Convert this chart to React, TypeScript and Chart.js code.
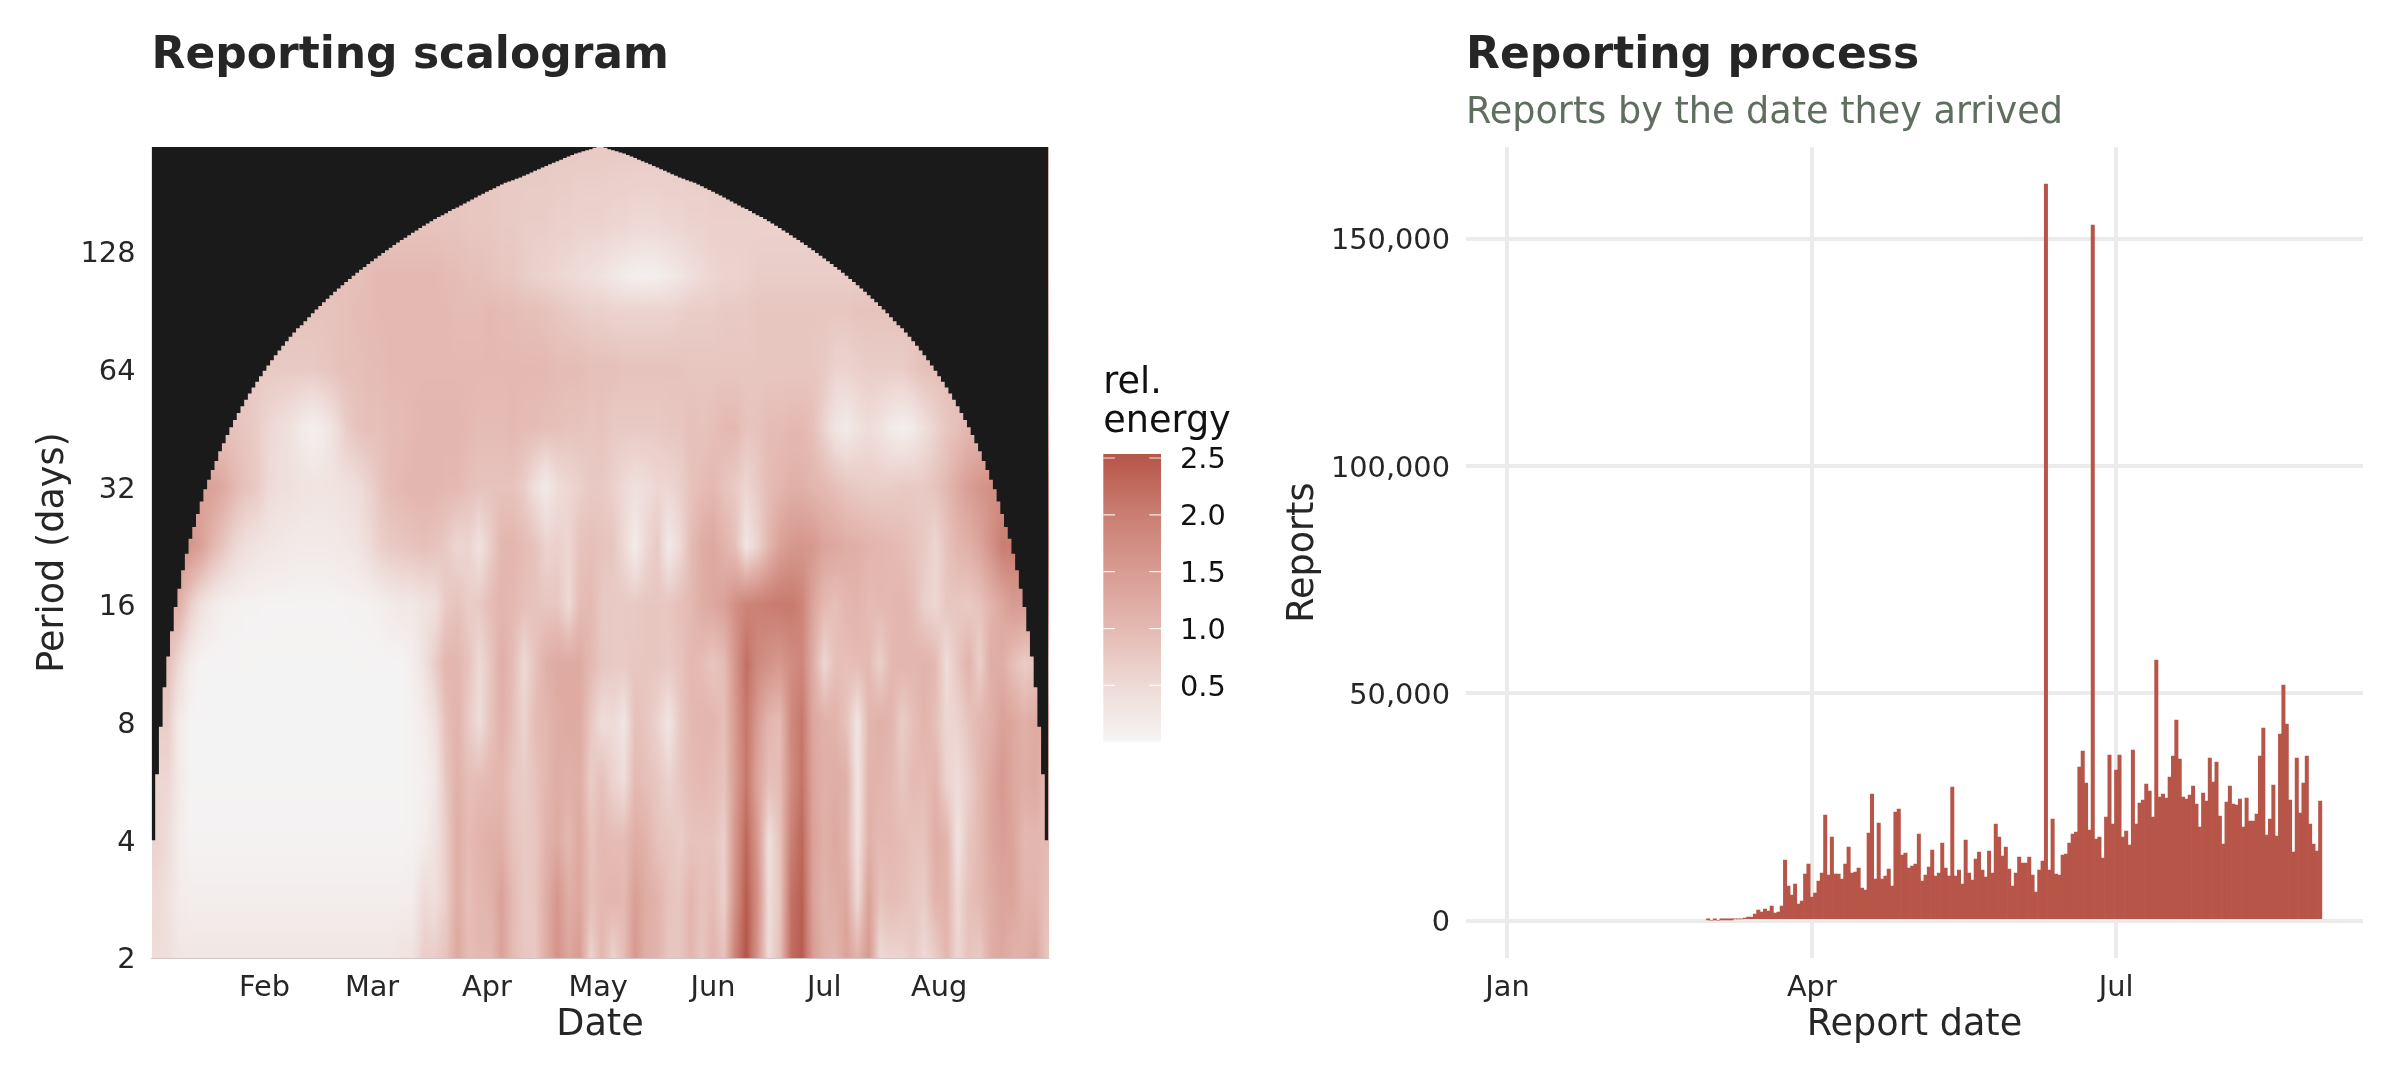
import { useEffect, useRef } from "react";
import { Chart, registerables } from "chart.js";

Chart.register(...registerables);

const FONT = "'DejaVu Sans'";
const TEXT = "#262626";
const BAR_RED = "#B75549";
const GRID = "#EBEBEB";

// Scalogram axes. x is days since Jan 1, y is the period in days.
const monthDays = [31, 60, 91, 121, 152, 182, 213];
const monthLabels = ["Feb", "Mar", "Apr", "May", "Jun", "Jul", "Aug"];
const periodTicks = [2, 4, 8, 16, 32, 64, 128];

// Rows of the energy table, every 3 days (day 2, 5, ... 242)
const heatPeriods = [2, 2.83, 4, 5.66, 8, 11.3, 16, 22.6, 32, 45.3, 64, 90.5, 111, 147, 239];

const energyP2 = [
  .45, .4, .28, .28, .28, .28, .28, .28, .28, .28,
  .28, .28, .28, .28, .28, .28, .28, .28, .28, .28,
  .28, .28, .35, .35, .7, .7, .85, 1.3, .95, 1.0,
  1.0, 1.4, .95, .8, .75, 1.2, 1.65, 1.3, 1.5, .6,
  1.05, .6, .95, 1.55, 1.15, 1.1, .8, .8, 1.05, .8,
  1.1, .85, 1.95, 2.55, 1.6, .45, .9, 2.2, 2.45, 1.5,
  1.15, 1.05, 1.4, 1.1, 1.55, .5, .6, .6, .75, .5,
  .7, 1.05, .55, .85, .75, 1.2, 1.3, 1.1, 1.15, 1.3, .8,
];
const energyP3 = [
  .5, .35, .18, .14, .14, .14, .14, .14, .14, .14,
  .14, .14, .14, .14, .14, .14, .14, .14, .14, .14,
  .14, .14, .14, .16, .5, .4, .7, 1.2, .9, 1.05,
  1.1, 1.4, 1.0, .75, .8, 1.2, 1.6, 1.2, 1.3, .9,
  1.0, 1.05, 1.0, 1.45, 1.2, 1.1, .85, .8, 1.05, .85,
  .95, .65, 1.7, 2.45, 1.7, .45, .8, 2.15, 2.4, 1.4,
  1.1, 1.2, 1.3, .5, 1.4, .85, .95, .9, .8, .7,
  1.1, 1.1, .5, .9, 1.0, 1.2, 1.35, 1.35, 1.1, 1.1, .9,
];
const energyP4 = [
  .6, .45, .15, .06, .06, .06, .06, .06, .06, .06,
  .06, .06, .06, .06, .06, .06, .06, .06, .06, .06,
  .06, .06, .06, .08, .15, .35, .7, 1.2, .95, 1.1,
  1.15, 1.15, .85, .75, .8, 1.1, 1.25, 1.0, 1.3, .85,
  1.0, .95, .95, 1.2, 1.1, .85, .8, .7, .85, .85,
  .85, .65, 1.6, 2.3, 1.55, .4, .85, 1.95, 2.3, 1.4,
  1.15, 1.3, 1.1, .35, 1.15, 1.0, 1.0, .95, .85, .85,
  1.2, 1.1, .35, .8, 1.0, 1.3, 1.45, 1.35, 1.0, 1.05, 1.0,
];
const energyP6 = [
  .55, .55, .2, .04, .04, .04, .04, .04, .04, .04,
  .04, .04, .04, .04, .04, .04, .04, .04, .04, .04,
  .04, .04, .04, .08, .1, .25, .8, 1.15, .9, .95,
  1.0, 1.05, .8, .7, .85, 1.05, 1.2, 1.15, 1.2, .7,
  .9, .6, .45, 1.0, .9, .8, .6, .8, .95, 1.0,
  .95, .85, 1.5, 2.1, 1.35, .9, .95, 1.75, 2.15, 1.35,
  1.15, 1.2, 1.15, .3, 1.1, 1.1, 1.0, .8, 1.0, .95,
  1.1, .6, .45, .7, 1.0, 1.3, 1.55, 1.3, 1.2, 1.25, 1.0,
];
const energyP8 = [
  .7, .7, .18, .04, .04, .04, .04, .04, .04, .04,
  .04, .04, .04, .04, .04, .04, .04, .04, .04, .04,
  .04, .04, .04, .08, .15, .4, .9, 1.1, .75, .45,
  .85, 1.15, .9, .6, .95, 1.05, 1.2, 1.25, 1.25, .8,
  .45, .5, .3, .9, .8, .6, .3, .75, 1.0, 1.05,
  1.05, .9, 1.55, 2.1, 1.5, 1.05, .95, 1.8, 2.1, 1.3,
  1.15, 1.1, .85, .3, 1.05, 1.15, 1.1, .7, .9, 1.1,
  .9, .55, .6, .85, 1.05, 1.15, 1.4, 1.3, 1.15, 1.25, 1.2,
];
const energyP11 = [
  .9, .9, .5, .15, .04, .04, .04, .04, .04, .04,
  .04, .04, .04, .04, .04, .04, .04, .04, .04, .04,
  .04, .04, .04, .12, .35, .7, 1.05, 1.05, .85, .5,
  .8, 1.2, .95, .5, .85, 1.15, 1.25, 1.25, 1.25, 1.0,
  .8, .75, .75, .8, .8, .8, .75, .85, 1.0, .95,
  .8, .95, 1.6, 2.2, 1.8, 1.65, 1.55, 1.75, 1.85, 1.2,
  .55, .9, .9, .95, 1.0, .65, 1.0, 1.05, 1.05, 1.1,
  1.0, .45, .8, 1.1, .65, 1.2, 1.2, .9, .7, .8, .8,
];
const energyP16 = [
  1.15, 1.15, 1.15, .7, .35, .2, .1, .08, .06, .06,
  .05, .05, .05, .05, .05, .05, .05, .06, .07, .08,
  .12, .2, .25, .25, .35, .4, .75, .85, .7, .75,
  .95, 1.05, 1.0, .9, .85, .8, .8, .5, .95, 1.0,
  .75, .75, .75, .75, .8, .8, .8, .9, 1.0, 1.2,
  1.3, 1.4, 1.7, 1.9, 1.95, 2.0, 2.05, 2.05, 1.9, 1.35,
  1.0, .9, 1.05, 1.1, .95, 1.0, 1.0, 1.05, .95, .65,
  .55, .8, .8, .75, .85, 1.1, 1.3, 1.5, 1.5, 1.5, 1.5,
];
const energyP23 = [
  1.6, 1.6, 1.6, 1.6, 1.4, 1.05, .8, .55, .4, .33,
  .28, .25, .22, .2, .2, .2, .22, .25, .3, .45,
  .65, .75, .8, .85, .9, .85, .75, .55, .6, .35,
  .7, 1.05, 1.05, .95, .85, .6, .65, .55, .85, .9,
  .85, .8, .5, .15, .55, .75, .2, .5, .95, 1.2,
  1.3, 1.1, .9, .3, .6, 1.05, 1.4, 1.55, 1.6, 1.55,
  1.35, 1.3, 1.2, 1.15, 1.1, 1.05, 1.0, .95, .85, .75,
  .55, .85, 1.05, 1.15, 1.35, 1.65, 2.0, 2.0, 2.0, 2.0, 2.0,
];
const energyP32 = [
  1.4, 1.4, 1.4, 1.4, 1.4, 1.4, 1.25, 1.0, .85, .75,
  .5, .42, .4, .35, .32, .32, .35, .4, .45, .6,
  .8, .95, 1.0, 1.05, 1.05, 1.05, 1.0, 1.0, .9, .85,
  .85, .85, .85, .7, .4, .2, .45, .55, .65, .75,
  .75, .65, .5, .4, .45, .55, .55, .65, .85, .95,
  1.0, .85, .75, .55, .75, .95, 1.05, 1.15, 1.15, 1.05,
  1.0, .9, .8, .75, .7, .7, .7, .75, .75, .75,
  .85, 1.0, 1.25, 1.45, 1.6, 1.7, 1.7, 1.7, 1.7, 1.7, 1.7,
];
const energyP45 = [
  .85, .85, .85, .85, .85, .85, .85, .85, .8, .7,
  .55, .45, .35, .2, .1, .2, .4, .7, .85, .9,
  .9, .95, .95, 1.0, 1.05, 1.05, 1.05, 1.05, 1.0, .95,
  .95, .95, 1.0, .95, .95, .9, .9, .85, .85, .8,
  .85, .75, .75, .75, .75, .75, .8, .8, .9, .85,
  .9, 1.0, 1.0, .85, .85, .95, .95, 1.0, 1.0, .9,
  .6, .3, .2, .35, .45, .35, .2, .12, .2, .4,
  .6, .8, .9, 1.05, 1.05, 1.05, 1.05, 1.05, 1.05, 1.05, 1.05,
];
const energyP64 = [
  .75, .75, .75, .75, .75, .75, .75, .75, .75, .75,
  .75, .75, .75, .75, .75, .8, .85, .9, .9, .95,
  .95, 1.0, 1.0, 1.0, 1.0, 1.0, 1.0, 1.0, 1.0, 1.0,
  1.0, 1.0, 1.0, 1.0, 1.0, 1.0, .95, .95, .95, .9,
  .9, .9, .85, .85, .85, .85, .85, .85, .8, .8,
  .8, .8, .8, .8, .8, .8, .8, .8, .8, .8,
  .75, .6, .6, .65, .7, .7, .7, .7, .8, .9,
  .9, .9, .9, .9, .9, .9, .9, .9, .9, .9, .9,
];
const energyP91 = [
  .85, .85, .85, .85, .85, .85, .85, .85, .85, .85,
  .85, .85, .85, .85, .85, .85, .85, .9, .95, .95,
  1.0, 1.0, 1.0, 1.0, 1.0, 1.0, 1.0, .95, .95, .95,
  1.0, .95, .95, .9, .9, .85, .8, .75, .7, .65,
  .65, .6, .6, .6, .6, .6, .6, .65, .7, .7,
  .7, .75, .75, .75, .8, .8, .8, .8, .8, .8,
  .8, .8, .8, .85, .85, .85, .85, .85, .85, .85,
  .85, .85, .85, .85, .85, .85, .85, .85, .85, .85, .85,
];
const energyP111 = [
  .9, .9, .9, .9, .9, .9, .9, .9, .9, .9,
  .9, .9, .9, .9, .9, .9, .9, .9, .9, .95,
  1.0, 1.0, 1.0, 1.0, 1.0, 1.0, .95, .95, .9, .9,
  .85, .8, .8, .7, .65, .6, .55, .5, .45, .4,
  .35, .25, .18, .12, .1, .13, .2, .3, .4, .5,
  .55, .6, .6, .65, .7, .7, .7, .7, .7, .7,
  .7, .7, .7, .7, .7, .7, .7, .7, .7, .7,
  .7, .7, .7, .7, .7, .7, .7, .7, .7, .7, .7,
];
const energyP147 = [
  .85, .85, .85, .85, .85, .85, .85, .85, .85, .85,
  .85, .85, .85, .85, .85, .85, .85, .85, .85, .85,
  .85, .85, .85, .85, .85, .85, .85, .85, .8, .8,
  .8, .75, .75, .7, .7, .7, .65, .65, .6, .6,
  .6, .55, .55, .5, .5, .5, .55, .55, .6, .6,
  .65, .65, .65, .65, .65, .65, .65, .65, .65, .65,
  .65, .65, .65, .65, .65, .65, .65, .65, .65, .65,
  .65, .65, .65, .65, .65, .65, .65, .65, .65, .65, .65,
];
const energyP239 = [
  .75, .75, .75, .75, .75, .75, .75, .75, .75, .75,
  .75, .75, .75, .75, .75, .75, .75, .75, .75, .75,
  .75, .75, .75, .75, .75, .75, .75, .75, .75, .75,
  .75, .75, .75, .75, .75, .75, .75, .75, .75, .75,
  .75, .75, .75, .75, .75, .75, .75, .75, .75, .75,
  .75, .75, .75, .75, .75, .75, .75, .75, .75, .75,
  .75, .75, .75, .75, .75, .75, .75, .75, .75, .75,
  .75, .75, .75, .75, .75, .75, .75, .75, .75, .75, .75,
];
const energyRows = [
  energyP2, energyP3, energyP4, energyP6, energyP8, energyP11, energyP16, energyP23,
  energyP32, energyP45, energyP64, energyP91, energyP111, energyP147, energyP239,
];
const heatDays = energyP2.map((_, i) => 2 + 3 * i);

// Edge of the black region for days 1-121, the right side is its mirror
const coneLeft = [
  4, 5.9, 7.8, 9.85, 11.8, 13.7, 15.8, 17.6, 19.6, 21.6,
  23.6, 25.3, 27.3, 29.4, 31.6, 33.4, 35.4, 37.3, 39.5, 41.4,
  43.5, 45.5, 47.5, 49.5, 51.5, 53.5, 55.5, 57.5, 59.5, 61.5,
  63.5, 65.5, 67.5, 69.5, 71.5, 73.5, 75.5, 77.5, 79.5, 81.5,
  83, 85, 87, 89, 91, 93, 95, 97, 99, 101,
  103, 105, 107, 109, 111, 113, 115, 117, 119, 121,
  123, 125, 127, 129, 131, 133, 135, 137, 139, 141,
  143, 145, 147, 149, 151, 153, 155, 157, 158.5, 160.5,
  162.5, 164.5, 166, 168, 170, 172, 174, 176, 178, 180,
  182, 184, 186, 188, 190, 192, 193.5, 195, 196.5, 198,
  200, 202, 204, 206, 208, 210, 212, 214, 216, 218,
  220, 222, 224, 226, 228, 229.5, 231, 232.5, 234, 236, 238,
];
const conePeriods = [...coneLeft, ...[...coneLeft].reverse()];

// Energy legend
const legendTicks = [0.5, 1, 1.5, 2, 2.5];
const colorStops = [0, 0.5, 1, 1.5, 2, 2.5];
const colorValues = ["#F5F5F5", "#EEDAD6", "#E4B9B2", "#D89C92", "#CA7E72", "#B7574B"];

// Reports per day from Mar 1 to Aug 31
const firstReportDay = 60;
const reportValues = [
  150, 0, 150, 0, 150, 150, 150, 150, 370, 370,
  370, 590, 810, 810, 1470, 2350, 1910, 2570, 2130, 3230,
  1690, 1910, 3230, 13340, 7620, 5640, 8060, 3670, 4320, 10260,
  12460, 5200, 6080, 8720, 10480, 23240, 10040, 18400, 10260, 10260,
  9160, 12460, 16200, 10480, 10700, 11580, 7180, 6740, 19280, 27850,
  9160, 21480, 9160, 9820, 11360, 7620, 23900, 24560, 14440, 14880,
  11580, 12020, 12460, 19060, 8720, 10040, 11800, 15540, 9820, 10480,
  17080, 11580, 9820, 29390, 9820, 11140, 8060, 17740, 10480, 8940,
  13560, 15100, 11140, 9600, 15320, 10480, 21260, 18400, 14220, 16200,
  11360, 7620, 10480, 14000, 12680, 12680, 14000, 10040, 6300, 11140,
  13120, 162000, 11140, 22360, 10260, 10040, 14440, 14660, 17080, 19060,
  19500, 33790, 37310, 30270, 19940, 153000, 17960, 18400, 13780, 22800,
  36430, 21260, 33130, 36430, 18400, 19720, 16640, 37530, 21260, 25870,
  26530, 30050, 28510, 22800, 57320, 27190, 27850, 26970, 31590, 36210,
  44130, 35550, 27190, 26750, 27630, 29610, 25660, 20600, 28070, 26310,
  35770, 30490, 34890, 23020, 16860, 26090, 29610, 25660, 25440, 26750,
  20600, 26970, 21920, 21920, 23460, 36210, 42370, 18840, 22360, 29830,
  18620, 41050, 51820, 43250, 26530, 15100, 35770, 23680, 30270, 36210,
  21260, 16860, 15320, 26310,
];
const reportDateTicks = [0, 91, 182];
const reportDateLabels = ["Jan", "Apr", "Jul"];
const reportTicks = [0, 50000, 100000, 150000];

const hexToRgb = (hex: string) => [1, 3, 5].map((i) => parseInt(hex.slice(i, i + 2), 16));
const colorRgb = colorValues.map(hexToRgb);

const energyColor = (v: number) => {
  const t = Math.min(Math.max(v, 0), 2.499) / 0.5;
  const i = Math.floor(t);
  return colorRgb[i].map((c, k) => c + (colorRgb[i + 1][k] - c) * (t - i));
};

// Finds where v sits in an ascending list: lower index and fraction
const locate = (list: number[], v: number) => {
  if (v <= list[0]) return [0, 0];
  for (let i = 0; i < list.length - 1; i++) {
    if (v <= list[i + 1]) return [i, (v - list[i]) / (list[i + 1] - list[i])];
  }
  return [list.length - 2, 1];
};

const heatLogs = heatPeriods.map((p) => Math.log2(p));

// The table is coarser than the raster in the picture, so the cells are blended when painted
const heatPlugin = {
  id: "heat",
  beforeDatasetsDraw(chart: any) {
    const { ctx, chartArea, scales } = chart;
    const w = Math.round(chartArea.right - chartArea.left);
    const h = Math.round(chartArea.bottom - chartArea.top);
    const off = document.createElement("canvas");
    off.width = w;
    off.height = h;
    const offCtx = off.getContext("2d");
    if (!offCtx) return;
    const img = offCtx.createImageData(w, h);
    const cols = Array.from({ length: w }, (_, x) =>
      locate(heatDays, scales.x.getValueForPixel(chartArea.left + x + 0.5))
    );
    for (let y = 0; y < h; y++) {
      const period = scales.y.getValueForPixel(chartArea.top + y + 0.5);
      const [r, rf] = locate(heatLogs, Math.log2(period));
      for (let x = 0; x < w; x++) {
        const [c, cf] = cols[x];
        const low = energyRows[r][c] * (1 - cf) + energyRows[r][c + 1] * cf;
        const high = energyRows[r + 1][c] * (1 - cf) + energyRows[r + 1][c + 1] * cf;
        const rgb = energyColor(low * (1 - rf) + high * rf);
        const o = (y * w + x) * 4;
        img.data[o] = rgb[0];
        img.data[o + 1] = rgb[1];
        img.data[o + 2] = rgb[2];
        img.data[o + 3] = 255;
      }
    }
    offCtx.putImageData(img, 0, 0);
    ctx.drawImage(off, chartArea.left, chartArea.top);
  },
};

const legendTickPlugin = {
  id: "legendTickMarks",
  afterDatasetsDraw(chart: any) {
    const { ctx, chartArea, scales } = chart;
    ctx.save();
    ctx.strokeStyle = "rgba(255,255,255,0.85)";
    ctx.lineWidth = 1.2;
    scales.y.ticks.forEach((t: any) => {
      const y = scales.y.getPixelForValue(t.value);
      ctx.beginPath();
      ctx.moveTo(chartArea.left, y);
      ctx.lineTo(chartArea.left + 11.7, y);
      ctx.moveTo(chartArea.right - 11.7, y);
      ctx.lineTo(chartArea.right, y);
      ctx.stroke();
    });
    ctx.restore();
  },
};

const tickFont = { family: FONT, size: 28.8 };
const axisTitleFont = { family: FONT, size: 36.6, lineHeight: 1.2 };
const titleFont = { family: FONT, size: 44, weight: "bold" as const, lineHeight: 1.2 };

const Scalogram = () => {
  const ref = useRef<HTMLCanvasElement | null>(null);

  useEffect(() => {
    if (!ref.current) return;
    const coneData = [
      { x: 0.5, y: 4 },
      ...conePeriods.map((p, i) => ({ x: i + 1, y: p })),
      { x: 242.5, y: 4 },
    ];
    const chart = new Chart(ref.current, {
      type: "line",
      data: {
        datasets: [
          {
            data: coneData,
            stepped: "middle",
            fill: "end",
            backgroundColor: "#1A1A1A",
            borderWidth: 0,
            pointRadius: 0,
          },
        ],
      },
      options: {
        responsive: false,
        devicePixelRatio: 1,
        animation: false,
        layout: { padding: { right: 41.5 } },
        plugins: {
          legend: { display: false },
          tooltip: { enabled: false },
          title: {
            display: true,
            text: "Reporting scalogram",
            align: "start",
            fullSize: false,
            color: TEXT,
            font: titleFont,
            padding: { top: 30.6, bottom: 63.6 },
          },
        },
        scales: {
          x: {
            type: "linear",
            min: 0.5,
            max: 242.5,
            afterFit: (s: any) => {
              s.height = 122;
            },
            afterBuildTicks: (s: any) => {
              s.ticks = monthDays.map((value) => ({ value }));
            },
            grid: { display: false, drawTicks: false },
            border: { display: true, color: "#D2C6C5", width: 1 },
            ticks: {
              autoSkip: false,
              maxRotation: 0,
              padding: 13,
              color: TEXT,
              font: tickFont,
              callback: (v: any) => monthLabels[monthDays.indexOf(v)],
            },
            title: {
              display: true,
              text: "Date",
              color: TEXT,
              font: axisTitleFont,
              padding: { top: 0, bottom: 33 },
            },
          },
          y: {
            type: "logarithmic",
            min: 2,
            max: 237,
            afterFit: (s: any) => {
              s.width = 151.5;
            },
            afterBuildTicks: (s: any) => {
              s.ticks = periodTicks.map((value) => ({ value }));
            },
            grid: { display: false, drawTicks: false },
            border: { display: false },
            ticks: {
              autoSkip: false,
              padding: 16,
              labelOffset: 3,
              color: TEXT,
              font: tickFont,
              callback: (v: any) => String(v),
            },
            title: {
              display: true,
              text: "Period (days)",
              color: TEXT,
              font: axisTitleFont,
              padding: { top: 31.5, bottom: 0 },
            },
          },
        },
      },
      plugins: [heatPlugin],
    } as any);

    return () => {
      chart.destroy();
    };
  }, []);

  return (
    <canvas
      ref={ref}
      width={1090}
      height={1080}
      style={{ position: "absolute", left: 0, top: 0 }}
    />
  );
};

const EnergyLegend = () => {
  const ref = useRef<HTMLCanvasElement | null>(null);

  useEffect(() => {
    if (!ref.current) return;
    const chart = new Chart(ref.current, {
      type: "bar",
      data: {
        labels: [""],
        datasets: [
          {
            data: [[0.005, 2.535]],
            categoryPercentage: 1,
            barPercentage: 1,
            backgroundColor: (c: any) => {
              const y = c.chart.scales.y;
              const from = y ? y.getPixelForValue(0) : NaN;
              const to = y ? y.getPixelForValue(2.5) : NaN;
              // the scale has no size yet on the first pass
              if (!Number.isFinite(from) || !Number.isFinite(to)) return colorValues[2];
              const g = c.chart.ctx.createLinearGradient(0, from, 0, to);
              colorStops.forEach((s, i) => g.addColorStop(s / 2.5, colorValues[i]));
              return g;
            },
          },
        ],
      },
      options: {
        responsive: false,
        devicePixelRatio: 1,
        animation: false,
        layout: { padding: { left: 13.3 } },
        plugins: {
          legend: { display: false },
          tooltip: { enabled: false },
          title: {
            display: true,
            text: ["rel.", "energy"],
            align: "start",
            color: "#111",
            font: { family: FONT, size: 36.6, weight: "normal", lineHeight: 1.085 },
            padding: { top: 13.2, bottom: 11.4 },
          },
        },
        scales: {
          x: { display: false, grid: { drawTicks: false } },
          y: {
            position: "right",
            min: 0.005,
            max: 2.535,
            afterFit: (s: any) => {
              s.width = 129;
            },
            afterBuildTicks: (s: any) => {
              s.ticks = legendTicks.map((value) => ({ value }));
            },
            grid: { display: false, drawTicks: false },
            border: { display: false },
            ticks: {
              padding: 19,
              labelOffset: 3,
              color: "#111",
              font: tickFont,
              callback: (v: any) => Number(v).toFixed(1),
            },
          },
        },
      },
      plugins: [legendTickPlugin],
    } as any);

    return () => {
      chart.destroy();
    };
  }, []);

  // The y scale keeps half a tick label plus its padding free under the bar, hence the height
  return (
    <canvas
      ref={ref}
      width={200}
      height={428}
      style={{ position: "absolute", left: 1090, top: 350 }}
    />
  );
};

const ReportingProcess = () => {
  const ref = useRef<HTMLCanvasElement | null>(null);

  useEffect(() => {
    if (!ref.current) return;
    const chart = new Chart(ref.current, {
      type: "bar",
      data: {
        datasets: [
          {
            data: reportValues.map((y, i) => ({ x: firstReportDay + i, y })),
            backgroundColor: BAR_RED,
            categoryPercentage: 1,
            barPercentage: 1,
          },
        ],
      },
      options: {
        responsive: false,
        devicePixelRatio: 1,
        animation: false,
        layout: { padding: { right: 37 } },
        plugins: {
          legend: { display: false },
          tooltip: { enabled: false },
          title: {
            display: true,
            text: "Reporting process",
            align: "start",
            fullSize: false,
            color: TEXT,
            font: titleFont,
            padding: { top: 30.6, bottom: 8 },
          },
          subtitle: {
            display: true,
            text: "Reports by the date they arrived",
            align: "start",
            fullSize: false,
            color: "#5F6E5E",
            font: { family: FONT, size: 36.6, weight: "normal", lineHeight: 1.2 },
            padding: { top: 0, bottom: 12 },
          },
        },
        scales: {
          x: {
            type: "linear",
            offset: false,
            min: -12.4,
            max: 255.8,
            afterFit: (s: any) => {
              s.height = 122;
            },
            afterBuildTicks: (s: any) => {
              s.ticks = reportDateTicks.map((value) => ({ value }));
            },
            grid: { offset: false, color: GRID, lineWidth: 4, drawTicks: false },
            border: { display: false },
            ticks: {
              autoSkip: false,
              maxRotation: 0,
              padding: 13,
              color: TEXT,
              font: tickFont,
              callback: (v: any) => reportDateLabels[reportDateTicks.indexOf(v)],
            },
            title: {
              display: true,
              text: "Report date",
              color: TEXT,
              font: axisTitleFont,
              padding: { top: 0, bottom: 33 },
            },
          },
          y: {
            min: -8200,
            max: 170100,
            afterFit: (s: any) => {
              s.width = 226;
            },
            afterBuildTicks: (s: any) => {
              s.ticks = reportTicks.map((value) => ({ value }));
            },
            grid: { color: GRID, lineWidth: 4, drawTicks: false },
            border: { display: false },
            ticks: {
              padding: 16,
              labelOffset: 3,
              color: TEXT,
              font: tickFont,
              callback: (v: any) => Number(v).toLocaleString("en-US"),
            },
            title: {
              display: true,
              text: "Reports",
              color: TEXT,
              font: axisTitleFont,
              padding: { top: 41.5, bottom: 0 },
            },
          },
        },
      },
    } as any);

    return () => {
      chart.destroy();
    };
  }, []);

  return (
    <canvas
      ref={ref}
      width={1160}
      height={1080}
      style={{ position: "absolute", left: 1240, top: 0 }}
    />
  );
};

export default function App() {
  return (
    <div
      style={{
        position: "absolute",
        left: 0,
        top: 0,
        width: 2400,
        height: 1080,
        background: "#fff",
        overflow: "hidden",
      }}
    >
      <Scalogram />
      <EnergyLegend />
      <ReportingProcess />
    </div>
  );
}
